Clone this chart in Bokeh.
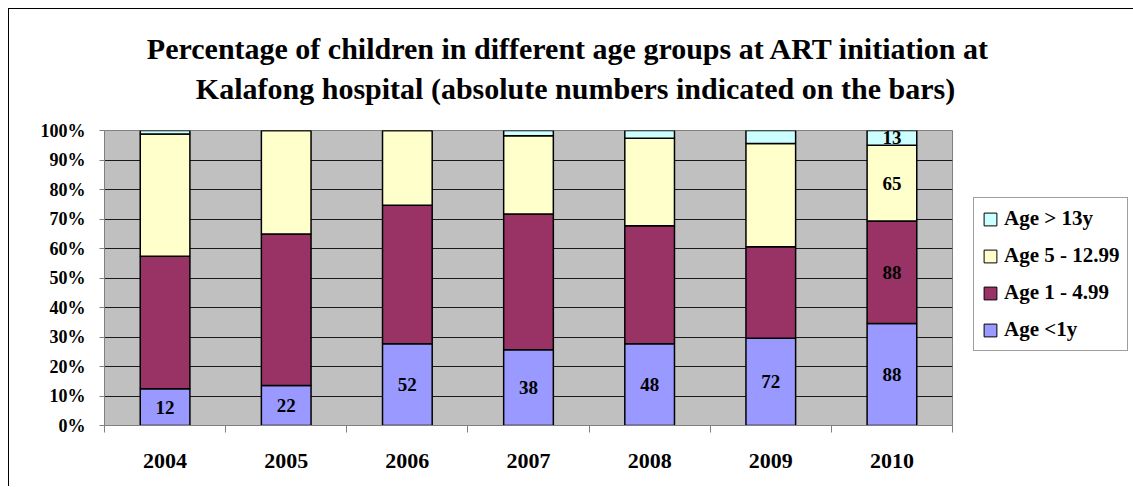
from bokeh.plotting import figure
from bokeh.layouts import column, row
from bokeh.models import (ColumnDataSource, Range1d, FixedTicker, PrintfTickFormatter,
                          Legend, LegendItem, Label, LabelSet)
from bokeh.embed import file_html
from bokeh.resources import INLINE
from bokeh.core.properties import value

# ---------------- data ----------------
years = [2004, 2005, 2006, 2007, 2008, 2009, 2010]
under_1 = [12.5, 13.6, 27.7, 25.7, 27.7, 29.6, 34.6]
age_1_5 = [44.9, 51.3, 47.0, 46.0, 40.0, 31.0, 34.7]
age_5_13 = [41.4, 35.1, 25.3, 26.5, 29.7, 35.0, 25.7]
over_13 = [1.2, 0.0, 0.0, 1.8, 2.6, 4.4, 5.0]
series_names = ["Age <1y", "Age 1 - 4.99", "Age 5 - 12.99", "Age > 13y"]
colors = ["#9999FF", "#993366", "#FFFFCC", "#CCFFFF"]
# absolute numbers written on the bars ("" = none)
n_under_1 = ["12", "22", "52", "38", "48", "72", "88"]
n_age_1_5 = ["", "", "", "", "", "", "88"]
n_age_5_13 = ["", "", "", "", "", "", "65"]
n_over_13 = ["", "", "", "", "", "", "13"]
y_ticks = [0, 10, 20, 30, 40, 50, 60, 70, 80, 90, 100]
title_1 = "Percentage of children in different age groups at ART initiation at"
title_2 = "Kalafong hospital (absolute numbers indicated on the bars)"

FONT = "Liberation Serif"

keys = ["s0", "s1", "s2", "s3"]
src = ColumnDataSource(dict(year=years, s0=under_1, s1=age_1_5, s2=age_5_13, s3=over_13))

# ---------------- title strip ----------------
TW, TH = 1124, 96
pt = figure(width=TW, height=TH, output_backend="svg", toolbar_location=None,
            x_range=Range1d(0, TW), y_range=Range1d(TH, 0), x_axis_type=None, y_axis_type=None,
            min_border=0, title=None)
pt.outline_line_color = None
pt.grid.visible = False
for txt, x, y in [(title_1, 559, 39), (title_2, 566, 79)]:
    pt.add_layout(Label(x=x, y=y, text=txt, text_align="center", text_baseline="middle",
                        text_font=FONT, text_font_size="30px", text_font_style="bold",
                        text_color="black"))

# ---------------- main chart ----------------
p = figure(width=946, height=381, output_backend="svg", toolbar_location=None,
           x_range=Range1d(years[0] - 0.5, years[-1] + 0.5), y_range=Range1d(0, 100),
           min_border_left=95, min_border_right=3, min_border_top=25, min_border_bottom=61,
           title=None)
p.background_fill_color = "#C0C0C0"
p.border_fill_color = "white"
p.outline_line_color = "#808080"
p.outline_line_width = 1

renderers = p.vbar_stack(keys, x="year", width=0.41, source=src, color=colors,
                         line_color="black", line_width=1.5)

lx, ly, lt = [], [], []
series = [under_1, age_1_5, age_5_13, over_13]
nums = [n_under_1, n_age_1_5, n_age_5_13, n_over_13]
for i, yr in enumerate(years):
    base = 0.0
    for s, n in zip(series, nums):
        if n[i]:
            lx.append(yr)
            ly.append(base + s[i] / 2.0)
            lt.append(n[i])
        base += s[i]
lab_src = ColumnDataSource(dict(x=lx, y=ly, t=lt))
p.add_layout(LabelSet(x="x", y="y", text="t", source=lab_src, text_align="center",
                      text_baseline="middle", text_font=value(FONT), text_font_size=value("19px"),
                      text_font_style=value("bold"), text_color=value("black")))

p.xgrid.visible = False
p.ygrid.ticker = FixedTicker(ticks=y_ticks)
p.ygrid.grid_line_color = "#1a1a1a"
p.ygrid.grid_line_width = 1

p.yaxis.ticker = FixedTicker(ticks=y_ticks)
p.yaxis.formatter = PrintfTickFormatter(format="%d%%")
p.yaxis.minor_tick_line_color = None
p.yaxis.major_tick_out = 5
p.yaxis.major_tick_in = 0
p.yaxis.major_label_standoff = 14
p.yaxis.axis_line_color = "#808080"
p.yaxis.major_tick_line_color = "#808080"
p.yaxis.major_label_text_font = FONT
p.yaxis.major_label_text_font_style = "bold"
p.yaxis.major_label_text_font_size = "18px"
p.yaxis.major_label_text_color = "black"

p.xaxis.ticker = FixedTicker(ticks=years, minor_ticks=[y - 0.5 for y in years] + [years[-1] + 0.5])
p.xaxis.major_tick_line_color = None
p.xaxis.major_tick_out = 0
p.xaxis.major_tick_in = 0
p.xaxis.minor_tick_out = 7
p.xaxis.minor_tick_in = 0
p.xaxis.minor_tick_line_color = "#808080"
p.xaxis.axis_line_color = "#808080"
p.xaxis.major_label_standoff = 21
p.xaxis.major_label_text_font = FONT
p.xaxis.major_label_text_font_style = "bold"
p.xaxis.major_label_text_font_size = "22px"
p.xaxis.major_label_text_color = "black"

# ---------------- legend strip ----------------
LW, LH = 177, 381
pl = figure(width=LW, height=LH, output_backend="svg", toolbar_location=None,
            x_range=Range1d(0, 1), y_range=Range1d(0, 1), x_axis_type=None, y_axis_type=None,
            min_border=0, title=None)
pl.outline_line_color = None
pl.grid.visible = False
# same series drawn outside the visible range so the legend shows their swatches
lrend = pl.vbar_stack(keys, x="year", width=0.41, source=src, color=colors,
                      line_color="black", line_width=1)
items = [LegendItem(label=series_names[i], renderers=[lrend[i]]) for i in [3, 2, 1, 0]]
legend = Legend(items=items, location=(18, 74), orientation="vertical",
                label_text_font=FONT, label_text_font_style="bold", label_text_font_size="21px",
                label_text_color="black", glyph_width=16, glyph_height=16, label_height=24,
                label_standoff=6, spacing=12, padding=8, margin=0,
                border_line_color="#404040", border_line_width=1, background_fill_color="white",
                background_fill_alpha=1)
pl.add_layout(legend, "center")

root = column(pt, row(p, pl))
root.styles = {"margin-left": "8px", "margin-top": "8px",
               "border-left": "1px solid #000000", "border-top": "1px solid #000000"}

open("out.html", "w").write(file_html(root, INLINE))
